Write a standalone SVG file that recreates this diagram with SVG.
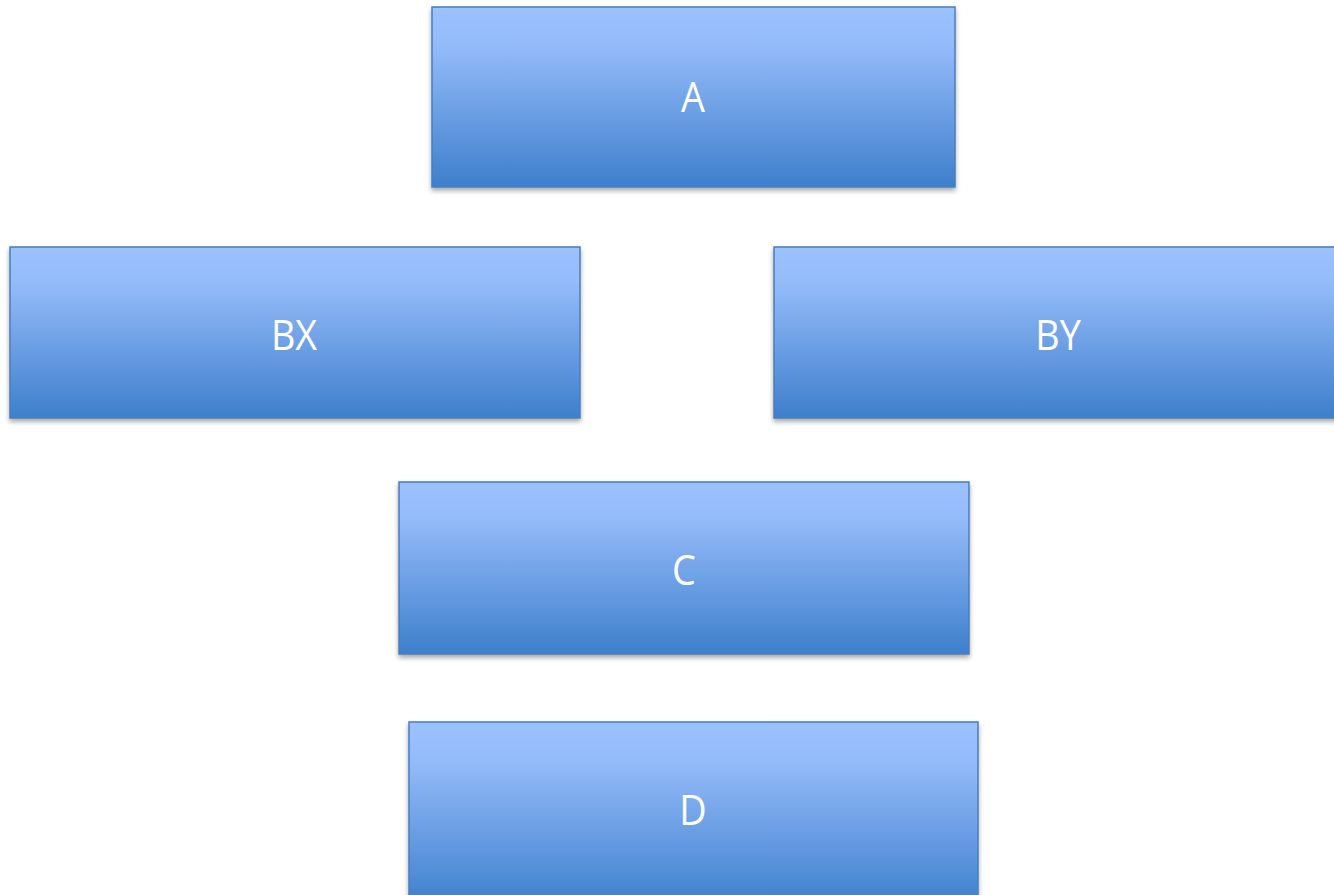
<svg xmlns="http://www.w3.org/2000/svg" width="1334" height="895" viewBox="0 0 1334 895">
<defs>
<linearGradient id="g" x1="0" y1="0" x2="0" y2="1">
<stop offset="0" stop-color="#9BC2FF"/>
<stop offset="0.2" stop-color="#95BCFA"/>
<stop offset="1" stop-color="#3E7FCC"/>
</linearGradient>
<filter id="sh" x="-5%" y="-5%" width="110%" height="120%">
<feGaussianBlur in="SourceAlpha" stdDeviation="2.5"/>
<feOffset dx="0" dy="3" result="b"/>
<feComponentTransfer><feFuncA type="linear" slope="0.35"/></feComponentTransfer>
<feMerge><feMergeNode/><feMergeNode in="SourceGraphic"/></feMerge>
</filter>
</defs>
<style>
.box{fill:url(#g);stroke:#4A7EBB;stroke-width:1.5;filter:url(#sh)}
.lbl{fill:#FFFFFF;font-family:"Open Sans","Liberation Sans",sans-serif;font-size:42px;text-anchor:middle}
</style>
<rect width="1334" height="895" fill="#FFFFFF"/>
<g id="connectors"></g>
<g id="A"><rect class="box" x="432" y="7" width="523" height="180"/><text class="lbl" transform="translate(693,112) scale(0.9,1)">A</text></g>
<g id="BX"><rect class="box" x="10" y="247" width="570" height="171"/><text class="lbl" transform="translate(294,350) scale(0.9,1)">BX</text></g>
<g id="BY"><rect class="box" x="774" y="247" width="575" height="171"/><text class="lbl" transform="translate(1058,350) scale(0.9,1)">BY</text></g>
<g id="C"><rect class="box" x="399" y="482" width="570" height="172"/><text class="lbl" transform="translate(684,585) scale(0.9,1)">C</text></g>
<g id="D"><rect class="box" x="409" y="722" width="569" height="185"/><text class="lbl" transform="translate(693,825) scale(0.9,1)">D</text></g>
</svg>
